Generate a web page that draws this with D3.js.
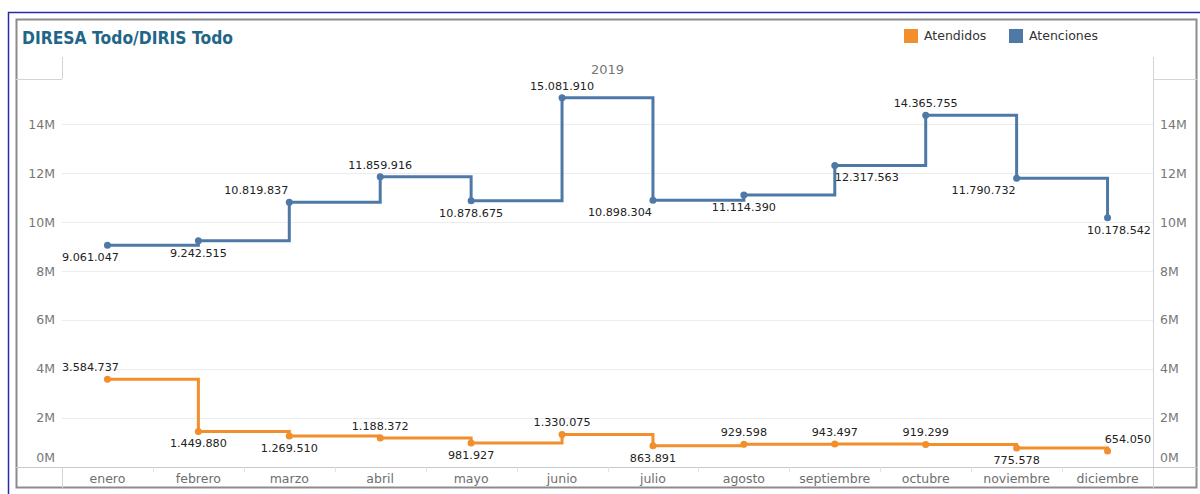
<!DOCTYPE html>
<html>
<head>
<meta charset="utf-8">
<script src="https://cdn.jsdelivr.net/npm/d3@7"></script>
<style>
  html, body { margin: 0; padding: 0; background: #fff; }
  svg { display: block; }
  text { font-family: "DejaVu Sans", sans-serif; }
</style>
</head>
<body>
<svg id="chart" width="1200" height="494"></svg>
<script>
// ---- Data ----
const months = ["enero","febrero","marzo","abril","mayo","junio","julio","agosto","septiembre","octubre","noviembre","diciembre"];
const atenciones = [9061047, 9242515, 10819837, 11859916, 10878675, 15081910, 10898304, 11114390, 12317563, 14365755, 11790732, 10178542];
const atendidos = [3584737, 1449880, 1269510, 1188372, 981927, 1330075, 863891, 929598, 943497, 919299, 775578, 654050];
const yTicks = [0, 2e6, 4e6, 6e6, 8e6, 10e6, 12e6, 14e6];
const seriesNames = ["Atendidos", "Atenciones"];
const yearLabel = "2019";
const titleText = "DIRESA Todo/DIRIS Todo";

// label placement (layout only): a=above, b=below, al/bl=left, ar/br=right
const placeAtenciones = ["bl","b","al","a","b","a","bl","b","br","a","bl","br"];
const placeAtendidos = ["al","b","b","a","b","a","b","a","a","a","b","ar"];

// ---- Layout ----
const W = 1200, H = 494;
const plotL = 62, plotR = 1153, plotT = 79, plotB = 467;
const colors = { Atendidos: "#F28E2B", Atenciones: "#4E79A7" };

const svg = d3.select("#chart");

// outer blue frame
svg.append("line").attr("x1", 8).attr("x2", W).attr("y1", 12.5).attr("y2", 12.5)
  .attr("stroke", "#2a2aa8").attr("stroke-width", 1.5);
svg.append("line").attr("x1", 8.5).attr("x2", 8.5).attr("y1", 12).attr("y2", H)
  .attr("stroke", "#2a2aa8").attr("stroke-width", 1.5);
// gray panel frame
svg.append("rect").attr("x", 16.5).attr("y", 19.5).attr("width", 1180).attr("height", 468)
  .attr("fill", "#fff").attr("stroke", "#8c8c8c").attr("stroke-width", 2);

// title
svg.append("text").attr("x", 22).attr("y", 43.5)
  .attr("font-family", "Lato, sans-serif")
  .attr("font-weight", "bold").attr("font-size", 17.5)
  .attr("textLength", 211).attr("lengthAdjust", "spacingAndGlyphs")
  .attr("fill", "#1f6688").text(titleText);

// legend
const legX = [904, 1009];
seriesNames.forEach((n, i) => {
  svg.append("rect").attr("x", legX[i]).attr("y", 29).attr("width", 14).attr("height", 14)
    .attr("fill", colors[n]);
  svg.append("text").attr("x", legX[i] + 20).attr("y", 36).attr("dy", "0.35em")
    .attr("font-size", 12.5).attr("fill", "#333").text(n);
});

// scales
const x = d3.scaleBand().domain(months).range([plotL, plotR]);
const y = d3.scaleLinear().domain([0, 15.85e6]).range([plotB, plotT]);
const cx = m => x(m) + x.bandwidth() / 2;

// header boxes and axis structure lines
const lineCol = "#d4d4d4";
svg.append("line").attr("x1", 16).attr("x2", plotL).attr("y1", plotT + 0.5).attr("y2", plotT + 0.5).attr("stroke", lineCol);
svg.append("line").attr("x1", plotL + 0.5).attr("x2", plotL + 0.5).attr("y1", 57).attr("y2", plotT).attr("stroke", lineCol);
svg.append("line").attr("x1", plotR).attr("x2", 1197).attr("y1", plotT + 0.5).attr("y2", plotT + 0.5).attr("stroke", lineCol);
svg.append("line").attr("x1", plotR + 0.5).attr("x2", plotR + 0.5).attr("y1", 57).attr("y2", 488).attr("stroke", lineCol);
svg.append("line").attr("x1", 16).attr("x2", 1197).attr("y1", plotB + 0.5).attr("y2", plotB + 0.5).attr("stroke", "#c8c8c8");
svg.append("line").attr("x1", plotL + 0.5).attr("x2", plotL + 0.5).attr("y1", plotB).attr("y2", 488).attr("stroke", lineCol);

// gridlines
svg.append("g").selectAll("line").data(yTicks.filter(d => d > 0)).join("line")
  .attr("x1", plotL).attr("x2", plotR)
  .attr("y1", d => Math.round(y(d)) + 0.5).attr("y2", d => Math.round(y(d)) + 0.5)
  .attr("stroke", "#ececec");

// y axis labels (left and right)
const fmtM = d => (d / 1e6) + "M";
const tickY = d => Math.min(y(d), 458);
svg.append("g").selectAll("text").data(yTicks).join("text")
  .attr("x", 55).attr("y", tickY).attr("dy", "0.35em").attr("text-anchor", "end")
  .attr("font-size", 12.5).attr("fill", "#777").text(fmtM);
svg.append("g").selectAll("text").data(yTicks).join("text")
  .attr("x", 1160).attr("y", tickY).attr("dy", "0.35em").attr("text-anchor", "start")
  .attr("font-size", 12.5).attr("fill", "#777").text(fmtM);

// year header
svg.append("text").attr("x", (plotL + plotR) / 2).attr("y", 69).attr("dy", "0.35em")
  .attr("text-anchor", "middle").attr("font-size", 13).attr("fill", "#777").text(yearLabel);

// x axis month labels and separators
svg.append("g").selectAll("line").data(months.slice(1)).join("line")
  .attr("x1", d => Math.round(x(d)) + 0.5).attr("x2", d => Math.round(x(d)) + 0.5)
  .attr("y1", plotB).attr("y2", plotB + 5).attr("stroke", "#e2e2e2");
svg.append("g").selectAll("text").data(months).join("text")
  .attr("x", cx).attr("y", 479).attr("dy", "0.35em").attr("text-anchor", "middle")
  .attr("font-size", 12.5).attr("fill", "#6e6e6e").text(d => d);

// series
const fmtNum = v => d3.format(",")(v).replace(/,/g, ".");
const series = [
  { name: "Atendidos", values: atendidos, place: placeAtendidos },
  { name: "Atenciones", values: atenciones, place: placeAtenciones }
];
const line = d3.line().x(d => cx(d.m)).y(d => y(d.v)).curve(d3.curveStepAfter);

series.forEach(s => {
  const pts = months.map((m, i) => ({ m, v: s.values[i], p: s.place[i] }));
  const g = svg.append("g");
  g.append("path").datum(pts).attr("d", line).attr("fill", "none")
    .attr("stroke", colors[s.name]).attr("stroke-width", 3).attr("stroke-linejoin", "miter");
  g.selectAll("circle").data(pts).join("circle")
    .attr("cx", d => cx(d.m)).attr("cy", d => y(d.v)).attr("r", 3.5)
    .attr("fill", colors[s.name]);
  const labels = g.selectAll("text").data(pts).join("text")
    .attr("font-size", 11.2).attr("fill", "#222")
    .attr("dy", "0.35em")
    .text(d => fmtNum(d.v))
    .attr("y", d => y(d.v) + (d.p[0] === "a" ? -12 : 12));
  labels.each(function(d) {
    const w = this.getComputedTextLength();
    const px = cx(d.m);
    let left;
    if (d.p.length === 1) left = px - w / 2;
    else if (d.p[1] === "l") left = px - 1 - w;
    else left = px;
    left = Math.max(plotL, Math.min(plotR - 2 - w, left));
    d3.select(this).attr("x", left);
  });
});
</script>
</body>
</html>
